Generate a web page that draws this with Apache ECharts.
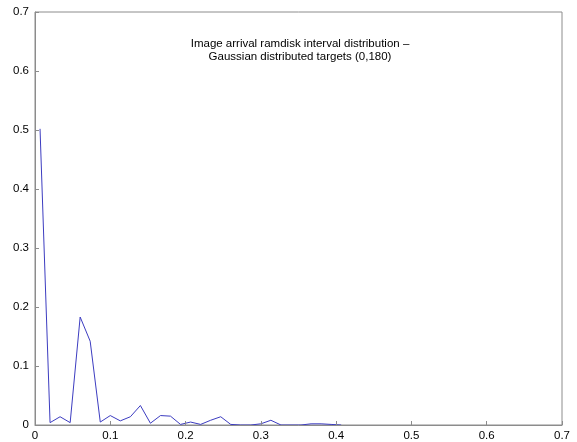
<!DOCTYPE html>
<html>
<head>
<meta charset="utf-8">
<script src="https://cdn.jsdelivr.net/npm/echarts@6/dist/echarts.min.js"></script>
<style>html,body{margin:0;padding:0;background:#fff;}#c{width:577px;height:442px;}</style>
</head>
<body>
<div id="c"></div>
<script>
var xValues = [0.0067,0.0200,0.0333,0.0467,0.0600,0.0733,0.0867,0.1000,0.1133,0.1267,0.1400,0.1533,0.1667,0.1800,0.1933,0.2067,0.2200,0.2333,0.2467,0.2600,0.2733,0.2867,0.3000,0.3133,0.3267,0.3400,0.3533,0.3667,0.3800,0.3933,0.4067];
var yValues = [0.502,0.004,0.014,0.004,0.183,0.142,0.005,0.016,0.007,0.014,0.033,0.003,0.016,0.015,0.001,0.005,0.001,0.008,0.014,0.001,0,0,0.002,0.008,0,0,0,0.002,0.002,0.001,0];
var xTicks = ['0','0.1','0.2','0.3','0.4','0.5','0.6','0.7'];
var yTicks = ['0','0.1','0.2','0.3','0.4','0.5','0.6','0.7'];
var titleLines = ['Image arrival ramdisk interval distribution \u2013','Gaussian distributed targets (0,180)'];

var chart = echarts.init(document.getElementById('c'), null, {renderer:'canvas'});
var pts = xValues.map(function(x,i){return [x, yValues[i]];});
var font = 'Liberation Sans, Arial, Helvetica, sans-serif';
var axisCol = '#8c8c8c';
function axisCommon(ticks, isX){
  return {
    type:'value', min:0, max:0.7, interval:0.1, z:5,
    axisLine:{show:true, lineStyle:{color:axisCol, width:1}},
    axisTick:{show:true, inside:true, length:4, lineStyle:{color:axisCol}},
    splitLine:{show:false},
    axisLabel:{color:'#000', fontSize:11.5, fontFamily:font, margin: isX?5:6,
      formatter:function(v){var i=Math.round(v*10); return ticks[i]!==undefined?ticks[i]:'';}}
  };
}
chart.setOption({
  animation:false,
  backgroundColor:'#fff',
  grid:{left:35, right:15, top:12, bottom:14.5, show:true, borderColor:axisCol, borderWidth:1},
  xAxis: axisCommon(xTicks, true),
  yAxis: axisCommon(yTicks, false),
  graphic:[
    {type:'text', x:300, y:44, style:{text:titleLines[0], fill:'#000', font:'11.5px '+font, textAlign:'center', textVerticalAlign:'middle'}},
    {type:'text', x:300, y:57, style:{text:titleLines[1], fill:'#000', font:'11.5px '+font, textAlign:'center', textVerticalAlign:'middle'}}
  ],
  series:[{type:'line', data:pts, symbol:'none', lineStyle:{color:'#3c3cc0', width:1}, z:1}]
});
</script>
</body>
</html>
